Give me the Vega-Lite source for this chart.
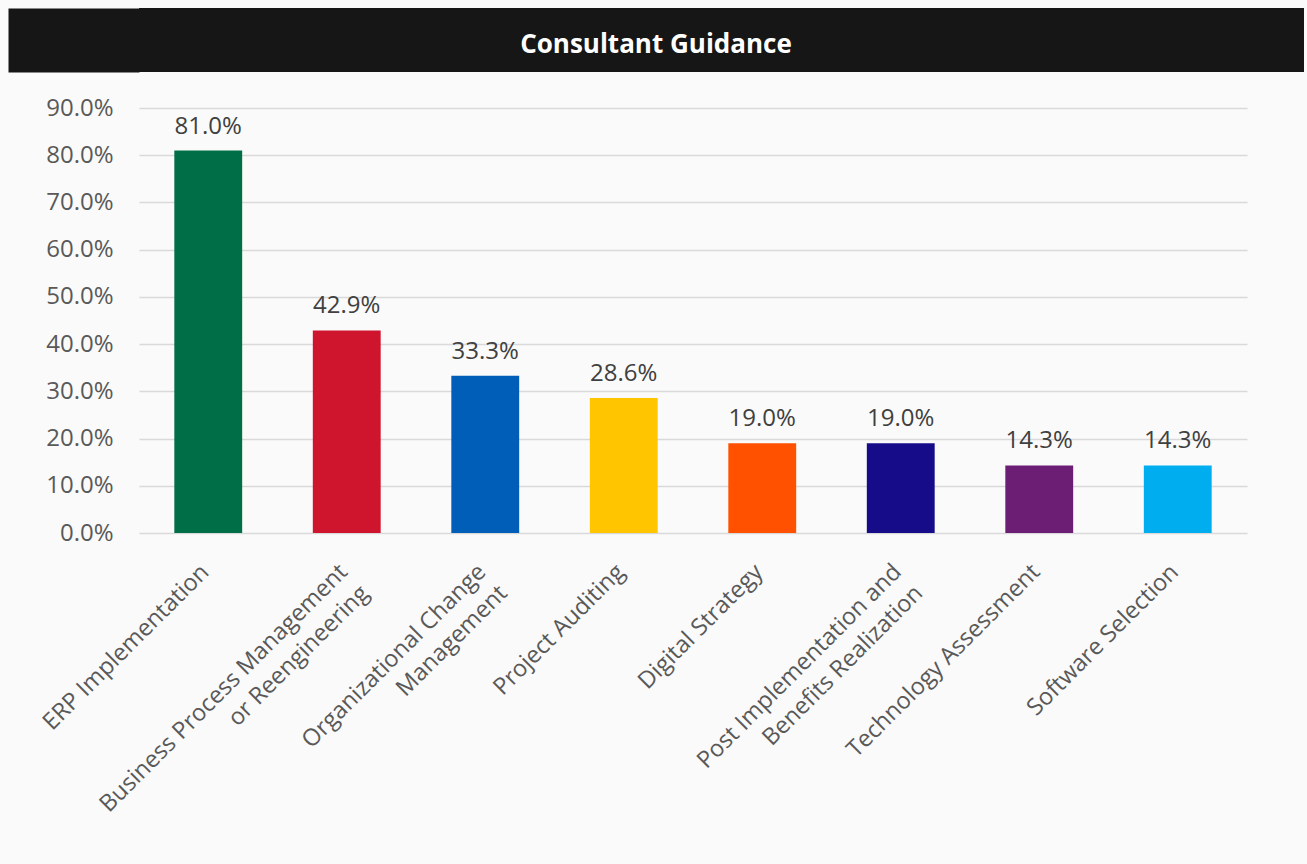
{
  "$schema": "https://vega.github.io/schema/vega-lite/v6.json",
  "background": "#fafafa",
  "padding": {"left": 7, "top": 8, "right": 4, "bottom": 50},
  "spacing": 24,
  "config": {"font": "Open Sans", "view": {"stroke": null}},
  "datasets": {
    "banner": [{"title": "Consultant Guidance"}],
    "services": [
      {"service": "ERP Implementation", "share": 0.81},
      {"service": "Business Process Management|or Reengineering", "share": 0.429},
      {"service": "Organizational Change|Management", "share": 0.333},
      {"service": "Project Auditing", "share": 0.286},
      {"service": "Digital Strategy", "share": 0.19},
      {"service": "Post Implementation  and|Benefits Realization", "share": 0.19},
      {"service": "Technology Assessment", "share": 0.143},
      {"service": "Software Selection", "share": 0.143}
    ]
  },
  "vconcat": [
    {
      "width": 1165,
      "height": 64,
      "view": {"fill": "#161616", "stroke": null},
      "data": {"name": "banner"},
      "mark": {"type": "text", "font": "Open Sans", "fontWeight": "bold", "fontSize": 26, "color": "#ffffff", "baseline": "alphabetic", "align": "center", "dy": 13, "dx": -65.5},
      "encoding": {
        "y": {
          "field": "title",
          "type": "nominal",
          "axis": {
            "title": null,
            "labels": false,
            "ticks": false,
            "grid": false,
            "domain": true,
            "domainColor": "#161616",
            "domainWidth": 131,
            "domainCap": "butt",
            "offset": 65.5
          }
        },
        "text": {"field": "title", "type": "nominal"}
      }
    },
    {
      "width": 1108,
      "height": 425,
      "data": {"name": "services"},
      "encoding": {
        "x": {
          "field": "service",
          "type": "nominal",
          "sort": null,
          "scale": {"paddingInner": 0.51, "paddingOuter": 0.255},
          "axis": {
            "title": null,
            "labelAngle": -45,
            "labelAlign": "right",
            "labelBaseline": "middle",
            "labelExpr": "split(datum.value, '|')",
            "labelFont": "Open Sans",
            "labelFontSize": 23.5,
            "labelColor": "#595959",
            "labelLimit": 0,
            "labelPadding": 35,
            "labelOffset": -3,
            "labelLineHeight": 30,
            "labelOverlap": false,
            "labelBound": false,
            "ticks": false,
            "domain": false
          }
        },
        "y": {
          "field": "share",
          "type": "quantitative",
          "scale": {"domain": [0, 0.9], "nice": false},
          "axis": {
            "title": " ",
            "titleFontSize": 10,
            "titlePadding": 28,
            "values": [0, 0.1, 0.2, 0.3, 0.4, 0.5, 0.6, 0.7, 0.8, 0.9],
            "format": ".1%",
            "labelFont": "Open Sans",
            "labelFontSize": 24,
            "labelColor": "#595959",
            "labelPadding": 26,
            "ticks": false,
            "domain": false,
            "gridColor": "#d9d9d9",
            "gridWidth": 1.5
          }
        }
      },
      "layer": [
        {
          "mark": {"type": "bar"},
          "encoding": {
            "color": {
              "field": "service",
              "type": "nominal",
              "legend": null,
              "scale": {
                "domain": ["ERP Implementation", "Business Process Management|or Reengineering", "Organizational Change|Management", "Project Auditing", "Digital Strategy", "Post Implementation  and|Benefits Realization", "Technology Assessment", "Software Selection"],
                "range": ["#006e46", "#cf152d", "#005eb8", "#ffc600", "#ff5100", "#160c8a", "#6c1e75", "#00aeef"]
              }
            }
          }
        },
        {
          "mark": {"type": "text", "baseline": "alphabetic", "dy": -17, "fontSize": 24, "font": "Open Sans", "color": "#404040"},
          "encoding": {"text": {"field": "share", "type": "quantitative", "format": ".1%"}}
        }
      ]
    }
  ]
}
